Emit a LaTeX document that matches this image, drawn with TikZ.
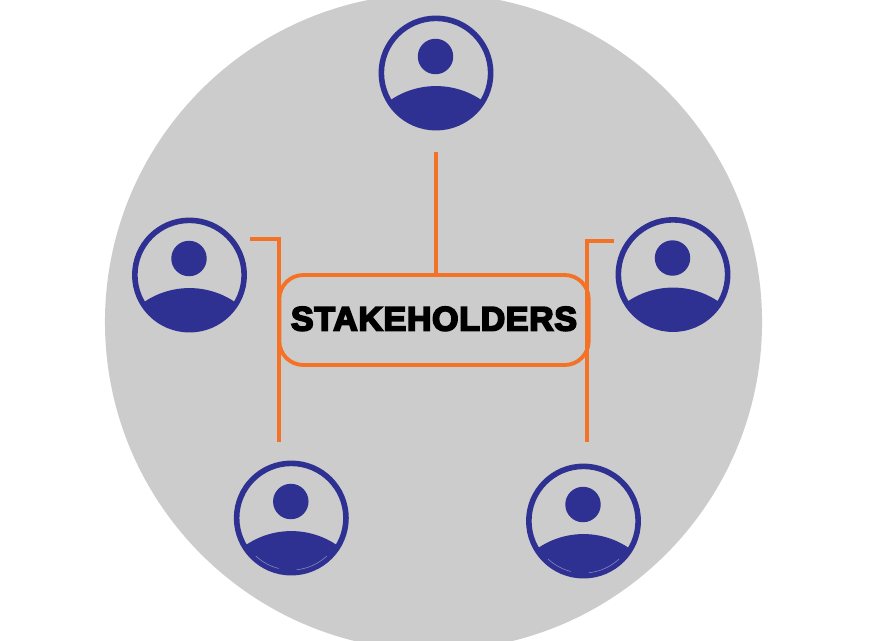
\documentclass[tikz,border=0pt]{standalone}
\usepackage{fontspec}
\setmainfont{Liberation Sans}
\newfontfamily\heavyfont{Liberation Sans}[BoldFeatures={FakeBold=5.5,LetterSpace=2.2}]
\definecolor{discgrey}{HTML}{CCCCCC}
\definecolor{navy}{HTML}{2E3192}
\definecolor{linkorange}{HTML}{F47225}
\tikzset{
  px/.style={x=0.75pt,y=-0.75pt},
  ringnode/.style={circle,draw=navy,line width=4.2pt,minimum size=82pt,inner sep=0pt},
  headnode/.style={circle,fill=navy,minimum size=26.6pt,inner sep=0pt},
  linkline/.style={draw=linkorange,line width=3pt},
  boxnode/.style={draw=linkorange,line width=2.9pt,rounded corners=18pt,minimum width=232pt,minimum height=67.5pt,inner sep=0pt,text=black,font=\heavyfont\bfseries\fontsize{25.4pt}{28pt}\selectfont},
  person/.pic={
    \node[ringnode] (ring) at (0,0) {};
    \node[headnode] (head) at (-0.5,-16.5) {};
    \begin{scope}
      \clip (0,0) circle[radius=40pt];
      \fill[navy] (0,94) circle[radius=60.7pt];
    \end{scope}
  },
  sheen/.style={draw=white,draw opacity=0.45,line width=0.4pt}
}
\begin{document}
\begin{tikzpicture}[px]
  \useasboundingbox (0,0) rectangle (884,640);
  \clip (0,0) rectangle (884,640);
  \fill[white] (0,0) rectangle (884,640);
  \fill[discgrey] (433.5,322) circle[radius=246.4pt];

  \pic (top) at (436,73) {person};
  \pic (left) at (189.5,275) {person};
  \pic (right) at (673,274.5) {person};
  \pic (bl) at (291.3,518) {person};
  \pic (br) at (583.5,521) {person};

  \foreach \cx/\cy in {291.3/518,583.5/521} {
    \begin{scope}[shift={(\cx,\cy)}]
      \draw[sheen] (227:39pt) arc[start angle=227,end angle=256,radius=39pt];
      \draw[sheen] (276:39pt) arc[start angle=276,end angle=313,radius=39pt];
    \end{scope}
  }

  \node[boxnode] (box) at (434,320) {\raisebox{2pt}{STAKEHOLDERS}};

  \coordinate (topend) at (436,152);
  \coordinate (lefta) at (250,239.3);
  \coordinate (leftb) at (279.3,239.3);
  \coordinate (leftc) at (279.3,442);
  \coordinate (righta) at (614,241);
  \coordinate (rightb) at (587.3,241);
  \coordinate (rightc) at (587.3,442);

  \draw[linkline] (topend) -- (topend |- box.north);
  \draw[linkline] (lefta) -- (leftb) -- (leftc);
  \draw[linkline] (righta) -- (rightb) -- (rightc);
\end{tikzpicture}
\end{document}
